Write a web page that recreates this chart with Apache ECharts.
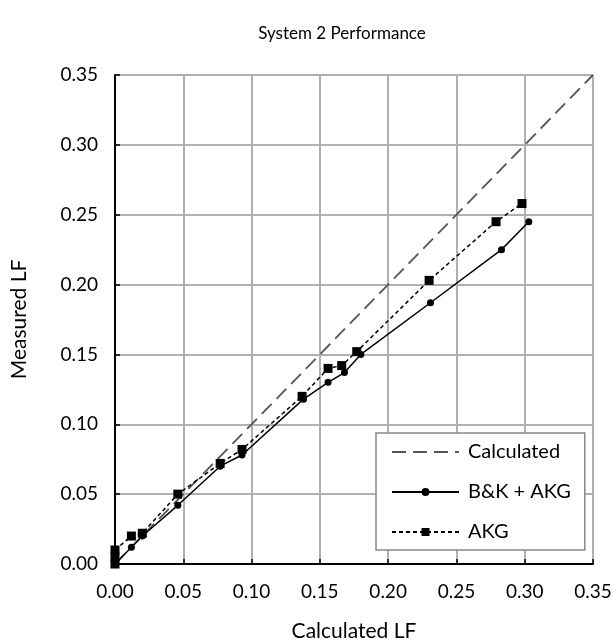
<!DOCTYPE html>
<html>
<head>
<meta charset="utf-8">
<script src="https://cdn.jsdelivr.net/npm/echarts@6/dist/echarts.min.js"></script>
<style>
  html, body { margin: 0; padding: 0; background: #fff; }
  #chart { width: 613px; height: 641px; }
</style>
</head>
<body>
<div id="chart"></div>
<script>
// Reference line: measured = calculated
const calculatedLine = [[0, 0], [0.35, 0.35]];

// B&K + AKG measurements [calculated LF, measured LF]
const bkAkgPoints = [
    [0, 0], [0.012, 0.012], [0.02, 0.02], [0.046, 0.042], [0.077, 0.070],
    [0.093, 0.078], [0.138, 0.118], [0.156, 0.130], [0.168, 0.137],
    [0.180, 0.150], [0.231, 0.187], [0.283, 0.225], [0.303, 0.245]
];

// AKG only measurements
const akgPoints = [
    [0, 0], [0, 0.005], [0, 0.01], [0.012, 0.02], [0.02, 0.022], [0.046, 0.050],
    [0.077, 0.072], [0.093, 0.082], [0.137, 0.120], [0.156, 0.140],
    [0.166, 0.142], [0.177, 0.152], [0.230, 0.203], [0.279, 0.245], [0.298, 0.258]
];

const FONT = 'Lato';

const chart = echarts.init(document.getElementById('chart'));

const axisCommon = {
    type: 'value',
    min: 0,
    max: 0.35,
    interval: 0.05,
    axisLine: { show: true, lineStyle: { color: '#000', width: 2 } },
    axisTick: { show: true, inside: true, length: 5, lineStyle: { color: '#000', width: 1.5 } },
    splitLine: { show: true, lineStyle: { color: '#b0b0b0', width: 2 } },
    axisLabel: {
        color: '#000', fontSize: 19, fontFamily: FONT,
        formatter: v => v.toFixed(2)
    },
    nameLocation: 'middle',
    nameTextStyle: { color: '#000', fontSize: 21, fontFamily: FONT }
};

chart.setOption({
    animation: false,
    backgroundColor: '#fff',
    title: {
        text: 'System 2 Performance',
        left: 337,
        top: 20,
        textAlign: 'center',
        textStyle: { color: '#000', fontSize: 17, fontWeight: 'normal', fontFamily: FONT }
    },
    grid: { left: 115, right: 20, top: 75, bottom: 77, outerBoundsMode: 'none', containLabel: false },
    xAxis: Object.assign({}, axisCommon, {
        name: 'Calculated LF',
        nameGap: 57,
        axisLabel: Object.assign({}, axisCommon.axisLabel, { margin: 18 })
    }),
    yAxis: Object.assign({}, axisCommon, {
        name: 'Measured LF',
        nameGap: 85,
        axisLabel: Object.assign({}, axisCommon.axisLabel, { margin: 17 })
    }),
    legend: {
        orient: 'vertical',
        left: 376,
        top: 433,
        padding: [9, 14, 8, 15],
        itemWidth: 67,
        itemHeight: 10,
        itemGap: 20,
        borderColor: '#888',
        borderWidth: 1.5,
        backgroundColor: '#fff',
        textStyle: { color: '#000', fontSize: 20, lineHeight: 20, fontFamily: FONT, padding: [0, 0, 0, 4] },
        data: [
            { name: 'Calculated', itemStyle: { color: 'rgba(0,0,0,0)', borderWidth: 0 } },
            'B&K + AKG',
            'AKG'
        ]
    },
    series: [
        {
            name: 'Calculated',
            type: 'line',
            data: calculatedLine,
            showSymbol: false,
            symbol: 'none',
            lineStyle: { color: '#555', width: 1.8, type: [14, 7] },
            itemStyle: { color: '#555' }
        },
        {
            name: 'B&K + AKG',
            type: 'line',
            data: bkAkgPoints,
            symbol: 'circle',
            symbolSize: 7,
            lineStyle: { color: '#000', width: 1.5 },
            itemStyle: { color: '#000' }
        },
        {
            name: 'AKG',
            type: 'line',
            data: akgPoints,
            symbol: 'rect',
            symbolSize: 9,
            lineStyle: { color: '#000', width: 1.5, type: [4, 3] },
            itemStyle: { color: '#000' }
        }
    ]
});
</script>
</body>
</html>
